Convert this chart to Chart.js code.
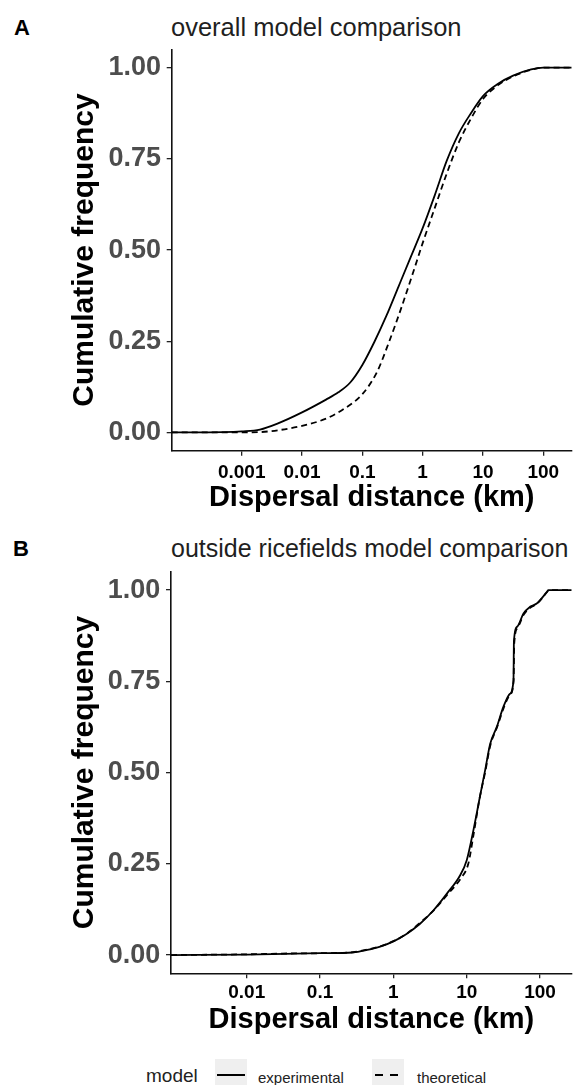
<!DOCTYPE html>
<html>
<head>
<meta charset="utf-8">
<script src="https://cdn.jsdelivr.net/npm/chart.js@4.4.1/dist/chart.umd.min.js"></script>
<style>
  html, body { margin: 0; padding: 0; background: #fff; width: 579px; height: 1085px; overflow: hidden; }
  body { position: relative; font-family: "Liberation Sans", Arial, sans-serif; }
  canvas { position: absolute; left: 0; }
  #chartA { top: 0; }
  #chartB { top: 525px; }
  .tag { position: absolute; font-weight: bold; font-size: 22px; line-height: 22px; color: #000; }
  .ttl { position: absolute; font-size: 25.5px; line-height: 25.5px; color: #1f1f1f; white-space: nowrap; }
  .lg { position: absolute; white-space: nowrap; color: #222; }
  .key { position: absolute; top: 1059px; width: 32px; height: 32px; background: #efefef; }
  .key span { position: absolute; top: 15px; height: 2px; background: #000; }
</style>
</head>
<body>
<div class="tag" style="left:14px;top:17px;">A</div>
<div class="ttl" style="left:171px;top:14.5px;">overall model comparison</div>
<canvas id="chartA" width="579" height="525"></canvas>

<div class="tag" style="left:13px;top:538px;">B</div>
<div class="ttl" style="left:171px;top:535.5px;font-size:25px;line-height:25px;">outside ricefields model comparison</div>
<canvas id="chartB" width="579" height="530"></canvas>

<div class="lg" style="left:146px;top:1066px;font-size:19px;line-height:19px;">model</div>
<div class="key" style="left:215px;"><span style="left:2px;width:28px;"></span></div>
<div class="lg" style="left:258px;top:1070px;font-size:15px;line-height:15px;">experimental</div>
<div class="key" style="left:372px;"><span style="left:3px;width:8px;"></span><span style="left:18px;width:8px;"></span></div>
<div class="lg" style="left:417px;top:1070px;font-size:15px;line-height:15px;">theoretical</div>

<script>
// Axis ticks
const freqTickValues = [0, 0.25, 0.5, 0.75, 1];
const freqTickLabels = ['0.00', '0.25', '0.50', '0.75', '1.00'];
const overallTickValues = [0.001, 0.01, 0.1, 1, 10, 100];
const overallTickLabels = ['0.001', '0.01', '0.1', '1', '10', '100'];
const outsideTickValues = [0.01, 0.1, 1, 10, 100];
const outsideTickLabels = ['0.01', '0.1', '1', '10', '100'];

// Distance limits (km) of each panel's x axis
const overallRange = [0.000069, 296];
const outsideRange = [0.000927, 270];

// Panel A: overall model comparison (distance in km, cumulative frequency)
const overallDistExp = [0.000069, 0.0005, 0.001, 0.002, 0.004, 0.01, 0.025, 0.04, 0.063, 0.1, 0.158, 0.251, 0.398, 0.631, 1, 1.585, 2.512, 3.98, 6.31, 10, 17.8, 31.6, 63, 100, 296];
const overallFreqExp = [0, 0.001, 0.003, 0.008, 0.025, 0.055, 0.09, 0.11, 0.137, 0.185, 0.248, 0.32, 0.40, 0.48, 0.56, 0.65, 0.745, 0.82, 0.875, 0.922, 0.956, 0.978, 0.995, 1, 1];
const overallDistTheo = [0.000069, 0.001, 0.002, 0.004, 0.01, 0.025, 0.05, 0.1, 0.174, 0.28, 0.45, 0.69, 1, 1.585, 2.512, 3.98, 6.31, 10, 17.8, 31.6, 63, 100, 296];
const overallFreqTheo = [0, 0, 0.001, 0.006, 0.018, 0.038, 0.065, 0.105, 0.165, 0.25, 0.345, 0.437, 0.519, 0.615, 0.71, 0.795, 0.86, 0.914, 0.952, 0.976, 0.994, 1, 1];

// Panel B: outside ricefields model comparison
const outsideDistExp = [0.000927, 0.01, 0.1, 0.28, 0.44, 0.66, 1, 1.51, 2.29, 3.5, 5.3, 8.1, 10, 12.3, 15.1, 17.8, 20.9, 25.7, 31.6, 38.9, 43.4, 44, 49, 59.4, 73, 90, 124, 130, 270];
const outsideFreqExp = [0, 0.001, 0.005, 0.007, 0.014, 0.023, 0.0375, 0.058, 0.085, 0.122, 0.167, 0.218, 0.26, 0.341, 0.433, 0.506, 0.579, 0.625, 0.68, 0.716, 0.753, 0.86, 0.9, 0.936, 0.954, 0.963, 0.995, 1, 1];
const outsideDistTheo = [0.000927, 0.01, 0.03, 0.1, 0.28, 0.44, 0.66, 1, 1.55, 2.3, 3.6, 5.4, 8.3, 10.5, 12.5, 15, 17.8, 21, 26, 32, 39, 43.5, 44.5, 49.5, 60, 74, 90, 124, 132, 270];
const outsideFreqTheo = [0, 0.002, 0.004, 0.005, 0.008, 0.015, 0.024, 0.038, 0.06, 0.088, 0.124, 0.165, 0.21, 0.25, 0.335, 0.43, 0.5, 0.575, 0.625, 0.678, 0.714, 0.75, 0.855, 0.897, 0.933, 0.952, 0.962, 0.994, 1, 1];

const FONT = '"Liberation Sans", Arial, sans-serif';

function points(xs, ys) {
  return xs.map((x, i) => ({ x: x, y: ys[i] }));
}

function makePanel(id, p) {
  const labelFor = (vals, labs) => (v) => {
    const i = vals.findIndex(t => Math.abs(t - v) < 1e-9 * Math.max(1, Math.abs(t)));
    return i >= 0 ? labs[i] : '';
  };
  const lineStyle = {
    borderColor: '#000',
    borderWidth: 1.8,
    pointRadius: 0,
    fill: false,
    cubicInterpolationMode: 'monotone'
  };
  return new Chart(document.getElementById(id), {
    type: 'line',
    data: {
      datasets: [
        Object.assign({ label: 'theoretical', data: points(p.distTheo, p.freqTheo), borderDash: [6, 4] }, lineStyle),
        Object.assign({ label: 'experimental', data: points(p.distExp, p.freqExp) }, lineStyle)
      ]
    },
    options: {
      responsive: false,
      devicePixelRatio: 1,
      animation: false,
      events: [],
      layout: { padding: { left: 0, right: 7.3, top: p.padTop, bottom: 0 } },
      plugins: { legend: { display: false }, tooltip: { enabled: false }, title: { display: false } },
      scales: {
        x: {
          type: 'logarithmic',
          position: 'bottom',
          min: p.range[0],
          max: p.range[1],
          afterBuildTicks: (s) => { s.ticks = p.xTickValues.map(v => ({ value: v })); },
          afterFit: (s) => { s.height = p.xHeight; },
          ticks: {
            autoSkip: false,
            maxRotation: 0,
            padding: p.xTickPad,
            color: '#000',
            font: { family: FONT, size: 19, weight: 'bold' },
            callback: labelFor(p.xTickValues, p.xTickLabels)
          },
          grid: { drawOnChartArea: false, drawTicks: true, tickLength: 5, color: '#222', lineWidth: 1.3 },
          border: { display: true, color: '#111', width: 1.6 },
          title: {
            display: true,
            text: 'Dispersal distance (km)',
            color: '#000',
            font: { family: FONT, size: 29, weight: 'bold' },
            padding: { top: 0, bottom: p.xTitlePad }
          }
        },
        y: {
          type: 'linear',
          position: 'left',
          min: -0.05,
          max: 1.05,
          afterBuildTicks: (s) => { s.ticks = freqTickValues.map(v => ({ value: v })); },
          afterFit: (s) => { s.width = p.yWidth; },
          ticks: {
            autoSkip: false,
            padding: 5.7,
            color: '#4d4d4d',
            font: { family: FONT, size: 27, weight: 'bold' },
            callback: labelFor(freqTickValues, freqTickLabels)
          },
          grid: { drawOnChartArea: false, drawTicks: true, tickLength: 5, color: '#222', lineWidth: 1.3 },
          border: { display: true, color: '#111', width: 1.6 },
          title: {
            display: true,
            text: 'Cumulative frequency',
            color: '#000',
            font: { family: FONT, size: 30, weight: 'bold' },
            padding: { top: 67, bottom: 0 }
          }
        }
      }
    }
  });
}

makePanel('chartA', {
  distExp: overallDistExp, freqExp: overallFreqExp,
  distTheo: overallDistTheo, freqTheo: overallFreqTheo,
  range: overallRange,
  xTickValues: overallTickValues, xTickLabels: overallTickLabels,
  padTop: 49.4, xHeight: 74.3, yWidth: 171.7,
  xTickPad: 6, xTitlePad: 9.6
});

makePanel('chartB', {
  distExp: outsideDistExp, freqExp: outsideFreqExp,
  distTheo: outsideDistTheo, freqTheo: outsideFreqTheo,
  range: outsideRange,
  xTickValues: outsideTickValues, xTickLabels: outsideTickLabels,
  padTop: 46.8, xHeight: 81.7, yWidth: 171,
  xTickPad: 3.3, xTitlePad: 17.6
});
</script>
</body>
</html>
